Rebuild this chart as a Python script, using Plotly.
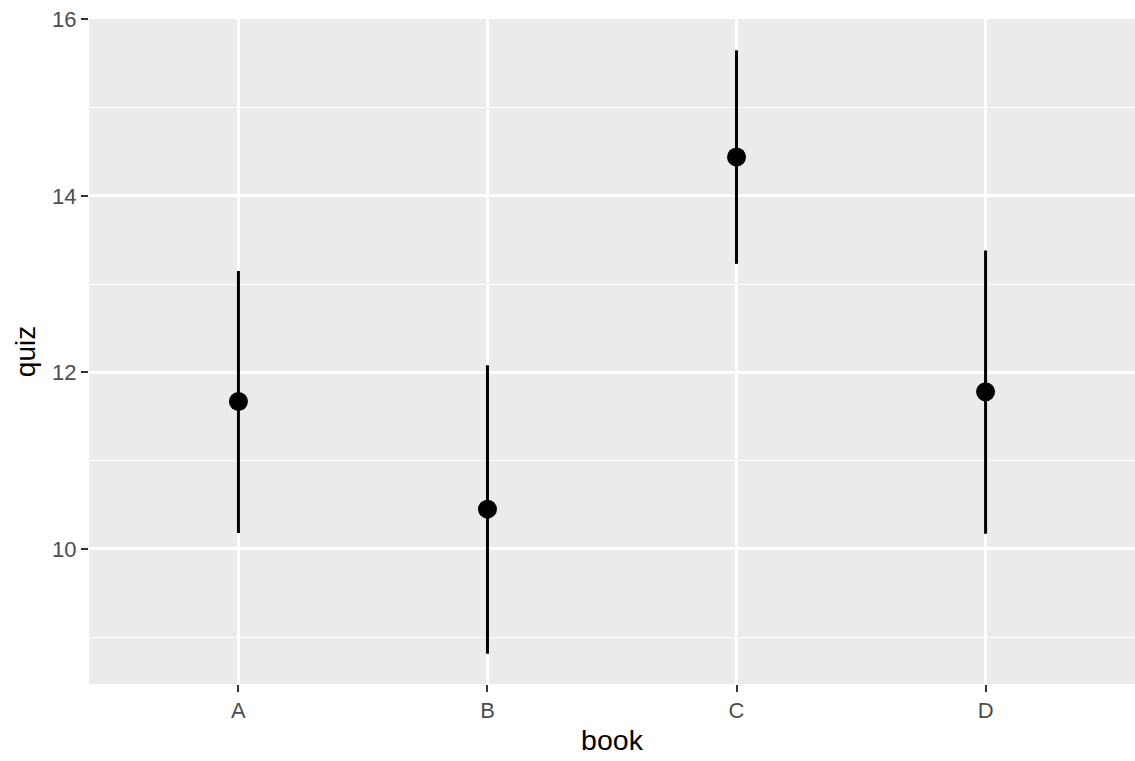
import plotly.graph_objects as go

books = ["A", "B", "C", "D"]
quiz_mean = [11.67, 10.45, 14.44, 11.78]
quiz_lower = [10.18, 8.81, 13.23, 10.17]
quiz_upper = [13.15, 12.08, 15.65, 13.38]
y_ticks = [10, 12, 14, 16]

err_plus = [u - m for u, m in zip(quiz_upper, quiz_mean)]
err_minus = [m - l for m, l in zip(quiz_mean, quiz_lower)]

fig = go.Figure()
fig.add_trace(go.Scatter(
    x=books, y=quiz_mean, mode="markers",
    marker=dict(color="black", size=19),
    error_y=dict(type="data", symmetric=False, array=err_plus, arrayminus=err_minus,
                 color="black", thickness=3, width=0),
    showlegend=False,
))

ymin = min(quiz_lower); ymax = max(quiz_upper)
pad = (ymax - ymin) * 0.05
y_range = [ymin - pad, max(ymax + pad, 16.005)]

font_family = "Liberation Sans, Arial, sans-serif"
fig.update_layout(
    width=1135, height=761,
    margin=dict(l=89, r=0, t=19, b=77),
    paper_bgcolor="white", plot_bgcolor="#EBEBEB",
    font=dict(family=font_family, color="#4D4D4D", size=22),
    xaxis=dict(
        type="category", range=[-0.6, 3.6],
        showgrid=True, gridcolor="white", gridwidth=2.6,
        ticks="outside", ticklen=7, tickwidth=2, tickcolor="#333333",
        tickfont=dict(size=22, color="#4D4D4D"),
        title=dict(text="book", font=dict(size=28.5, color="black"), standoff=7),
        zeroline=False, showline=False,
    ),
    yaxis=dict(
        range=y_range,
        tickvals=y_ticks,
        showgrid=True, gridcolor="white", gridwidth=2.6,
        minor=dict(dtick=1, tick0=0, showgrid=True, gridcolor="white", gridwidth=1.3, ticks=""),
        ticks="outside", ticklen=7, tickwidth=2, tickcolor="#333333",
        tickfont=dict(size=22, color="#4D4D4D"),
        title=dict(text="quiz", font=dict(size=28, color="black"), standoff=8),
        zeroline=False, showline=False,
    ),
)

fig.write_html("out.html")
